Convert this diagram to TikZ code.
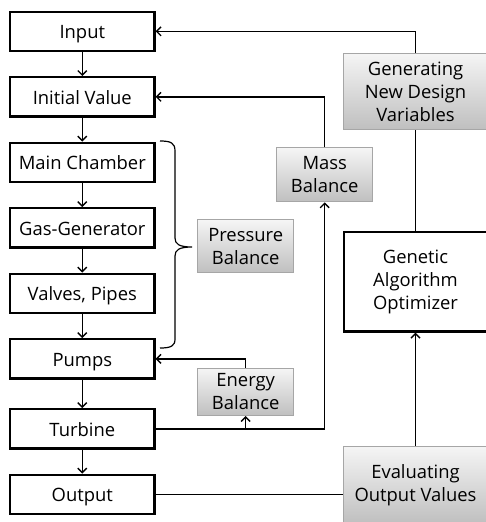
\documentclass[tikz,border=0pt]{standalone}
\usepackage{fontspec}
\setmainfont{Open Sans}
\usetikzlibrary{arrows.meta,positioning}

\begin{document}
\begin{tikzpicture}[
        x=1pt, y=-1pt,
        node distance=24pt and 24pt,
        >={Straight Barb[length=4.5pt,width=9pt]},
        every node/.style={align=center, font=\fontsize{18.4}{23}\selectfont},
        block/.style={draw, line width=2.2pt, minimum width=144.3pt, minimum height=39.3pt, inner sep=2pt},
        stage/.style={block, text height=17pt, text depth=2pt},
        balance/.style={draw=gray!70, line width=1pt, top color=gray!8, bottom color=gray!50, inner sep=2pt},
        link/.style={line width=1.4pt}
    ]
    \useasboundingbox (0,0) rectangle (486,522);

    % Left column
    \node[stage] (input) at (82.3,31.3) {Input};
    \node[stage] (init)[below =of input] {Initial Value};
    \node[stage] (main)[below =of init] {Main Chamber};
    \node[stage] (gasgen)[below =of main] {Gas-Generator};
    \node[stage] (valves)[below =of gasgen] {Valves, Pipes};
    \node[stage] (pumps)[below =of valves] {Pumps};
    \node[stage] (turbine)[below =28.5pt of pumps] {Turbine};
    \node[stage] (output)[below =of turbine] {Output};

    % Balances
    \node[balance, minimum width=95.7pt, minimum height=52.7pt] (pressure) at (245.7,246.2) {Pressure\\Balance};
    \node[balance, minimum width=96.3pt, minimum height=54pt] (mass) at (324.7,174.8) {Mass\\Balance};
    \node[balance, minimum width=95.7pt, minimum height=47pt] (energy) at (245.7,392) {Energy\\Balance};

    % Optimizer loop
    \node[balance, minimum width=144pt, minimum height=76pt] (gen) at (415.5,91.5) {Generating\\New Design\\Variables};
    \node[block, minimum height=99.5pt, minimum width=143.5pt] (gao) at (415.5,281.8) {Genetic\\Algorithm\\Optimizer};
    \node[balance, minimum width=144pt, minimum height=77pt] (eval) at (415.5,485) {Evaluating\\Output Values};

    % Brace
    \coordinate (btop) at (160,141);
    \coordinate (btip) at (192,247);
    \coordinate (bbot) at (160,348);
    \draw[line width=1.2pt] (btop) .. controls (171,141) and (175,143) .. (175,151) -- (175,238)
        .. controls (175,244) and (179,247) .. (btip)
        .. controls (179,247) and (175,250) .. (175,256) -- (175,339)
        .. controls (175,346) and (171,348) .. (bbot);

    % Edges
    \draw[link,->] (input) -- (init);
    \draw[link,->] (init) -- (main);
    \draw[link,->] (main) -- (gasgen);
    \draw[link,->] (gasgen) -- (valves);
    \draw[link,->] (valves) -- (pumps);
    \draw[link,->] (pumps) -- (turbine);
    \draw[link,->] (turbine) -- (output);

    \draw[link,->] (gen.north) |- (input.east);
    \draw[link] (gao.north) -- (gen.south);
    \draw[link,->] (eval.north) -- (gao.south);
    \draw[link] (output.east) -- (output.east -| eval.west);

    \draw[link,->] (turbine.east) -| (mass.south);
    \draw[link,->] (turbine.east -| energy.south) -- (energy.south);
    \draw[link,->] (energy.north) |- (pumps.east);
    \draw[link,->] (mass.north) |- (init.east);

\end{tikzpicture}
\end{document}
